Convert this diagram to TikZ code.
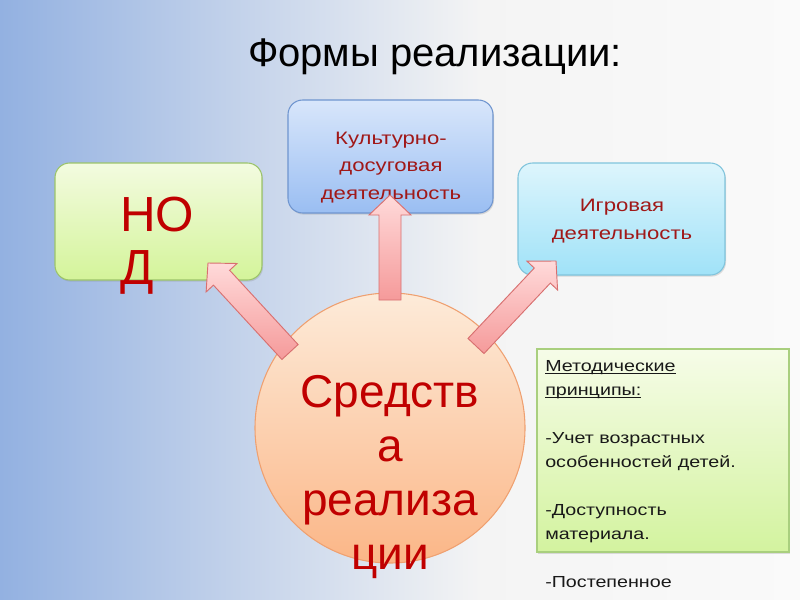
\documentclass[tikz,border=0pt]{standalone}
\usepackage{fontspec}
\setmainfont{Liberation Sans}
\newfontfamily\widesans{Liberation Sans}[FakeStretch=1.23]
\usetikzlibrary{calc,shadows}
\definecolor{bgblue}{HTML}{93B1E1}
\definecolor{bgwhite}{HTML}{F4F4F4}
\definecolor{bgwhite2}{HTML}{FAFAFA}
\definecolor{redtxt}{HTML}{C00000}
\definecolor{boxtxt}{HTML}{A01818}
\definecolor{gtop}{HTML}{F3FBE0}
\definecolor{gbot}{HTML}{D4F49A}
\definecolor{gbrd}{HTML}{9CC46A}
\definecolor{btop}{HTML}{D8E6FB}
\definecolor{bbot}{HTML}{9ABEF2}
\definecolor{bbrd}{HTML}{6F95CF}
\definecolor{ctop}{HTML}{DDF5FC}
\definecolor{cbot}{HTML}{A0E2F8}
\definecolor{cbrd}{HTML}{80C4DC}
\definecolor{otop}{HTML}{FDEBD9}
\definecolor{obot}{HTML}{FBB687}
\definecolor{obrd}{HTML}{EFA070}
\definecolor{atop}{HTML}{FFDADA}
\definecolor{abot}{HTML}{F59A9A}
\definecolor{abrd}{HTML}{D87070}
\definecolor{ttop}{HTML}{F6FCE8}
\definecolor{tbot}{HTML}{D3F39F}
\definecolor{tbrd}{HTML}{A9CF7E}
\newcommand\myul[1]{\setbox0\hbox{#1}\rlap{\rule[-1.3pt]{\wd0}{0.6pt}}\box0}
\newcommand\blockarr[2]{%
  \coordinate (#1h) at ($(#2)!15pt!(#1)$);
  \path[arrowbody] ($(#1)!8.25pt!90:(#2)$) -- ($(#1h)!8.25pt!-90:(#1)$)
    -- ($(#1h)!15.75pt!-90:(#1)$) -- (#2) -- ($(#1h)!15.75pt!90:(#1)$)
    -- ($(#1h)!8.25pt!90:(#1)$) -- ($(#1)!8.25pt!-90:(#2)$) -- cycle;}
\begin{document}
\begin{tikzpicture}[x=0.75pt,y=-0.75pt,
  softshadow/.style={drop shadow={opacity=0.25,shadow xshift=0.8pt,shadow yshift=-1.2pt}},
  roundbox/.style={rounded corners=11pt,line width=0.8pt,softshadow},
  arrowbody/.style={top color=atop,bottom color=abot,draw=abrd,line width=0.7pt,line join=miter},
  bigred/.style={text=redtxt,font=\fontsize{34.5}{40.5}\selectfont,inner sep=0pt,align=center},
  boxlabel/.style={text=boxtxt,font=\widesans\fontsize{13.5}{20.5}\selectfont,inner sep=0pt,align=center}]
\useasboundingbox (0,0) rectangle (800,600);
% background
\shade[left color=bgblue,right color=bgwhite] (0,0) rectangle (480,600);
\shade[left color=bgwhite,right color=bgwhite2] (479,0) rectangle (800,600);
% title
\node[anchor=base,font=\fontsize{30}{36}\selectfont,inner sep=0pt] (title) at (435,66) {Формы реализации:};
% boxes
\path[roundbox,top color=gtop,bottom color=gbot,draw=gbrd] (55,163) rectangle (262,280);
\coordinate (nod) at (158,221);
\path[roundbox,top color=btop,bottom color=bbot,draw=bbrd] (288,100) rectangle (493,213);
\coordinate (kult) at (390,156);
\path[roundbox,top color=ctop,bottom color=cbot,draw=cbrd] (518,163) rectangle (725,275);
\coordinate (igr) at (621,219);
% circle
\node[circle,minimum size=202.5pt,inner sep=0pt,top color=otop,bottom color=obot,draw=obrd,line width=0.8pt] (circ) at (390,428) {};
% texts
\node[anchor=north west,text=redtxt,font=\fontsize{37}{39.75}\selectfont,inner sep=0pt,align=left] (nodtxt) at (120,197) {НО\\Д};
\node[boxlabel,anchor=north] (kulttxt) at (391,132) {Культурно-\\досуговая\\деятельность};
\node[boxlabel,anchor=north,font=\widesans\fontsize{13.5}{21}\selectfont] (igrtxt) at (622,199) {Игровая\\деятельность};
\node[bigred,anchor=north] (circtxt) at (390,375) {Средств\\а\\реализа\\ции};
% arrows
\coordinate (l1) at (290,352); \coordinate (l2) at (208,263);
\coordinate (u1) at (390,300); \coordinate (u2) at (390,195);
\coordinate (r1) at (476,346); \coordinate (r2) at (556,261);
\blockarr{l1}{l2}
\blockarr{u1}{u2}
\blockarr{r1}{r2}
% principles box
\path[top color=ttop,bottom color=tbot,draw=tbrd,line width=0.8pt,softshadow] (537,349) rectangle (789,552);
\node[anchor=north west,inner sep=0pt,align=left,text=black!90,font=\widesans\fontsize{12}{18}\selectfont] (princ) at (545,360.5)
 {\myul{Методические}\\\myul{принципы:}\\[18pt]-Учет возрастных\\особенностей детей.\\[18pt]-Доступность\\материала.\\[18pt]-Постепенное};
\end{tikzpicture}
\end{document}
